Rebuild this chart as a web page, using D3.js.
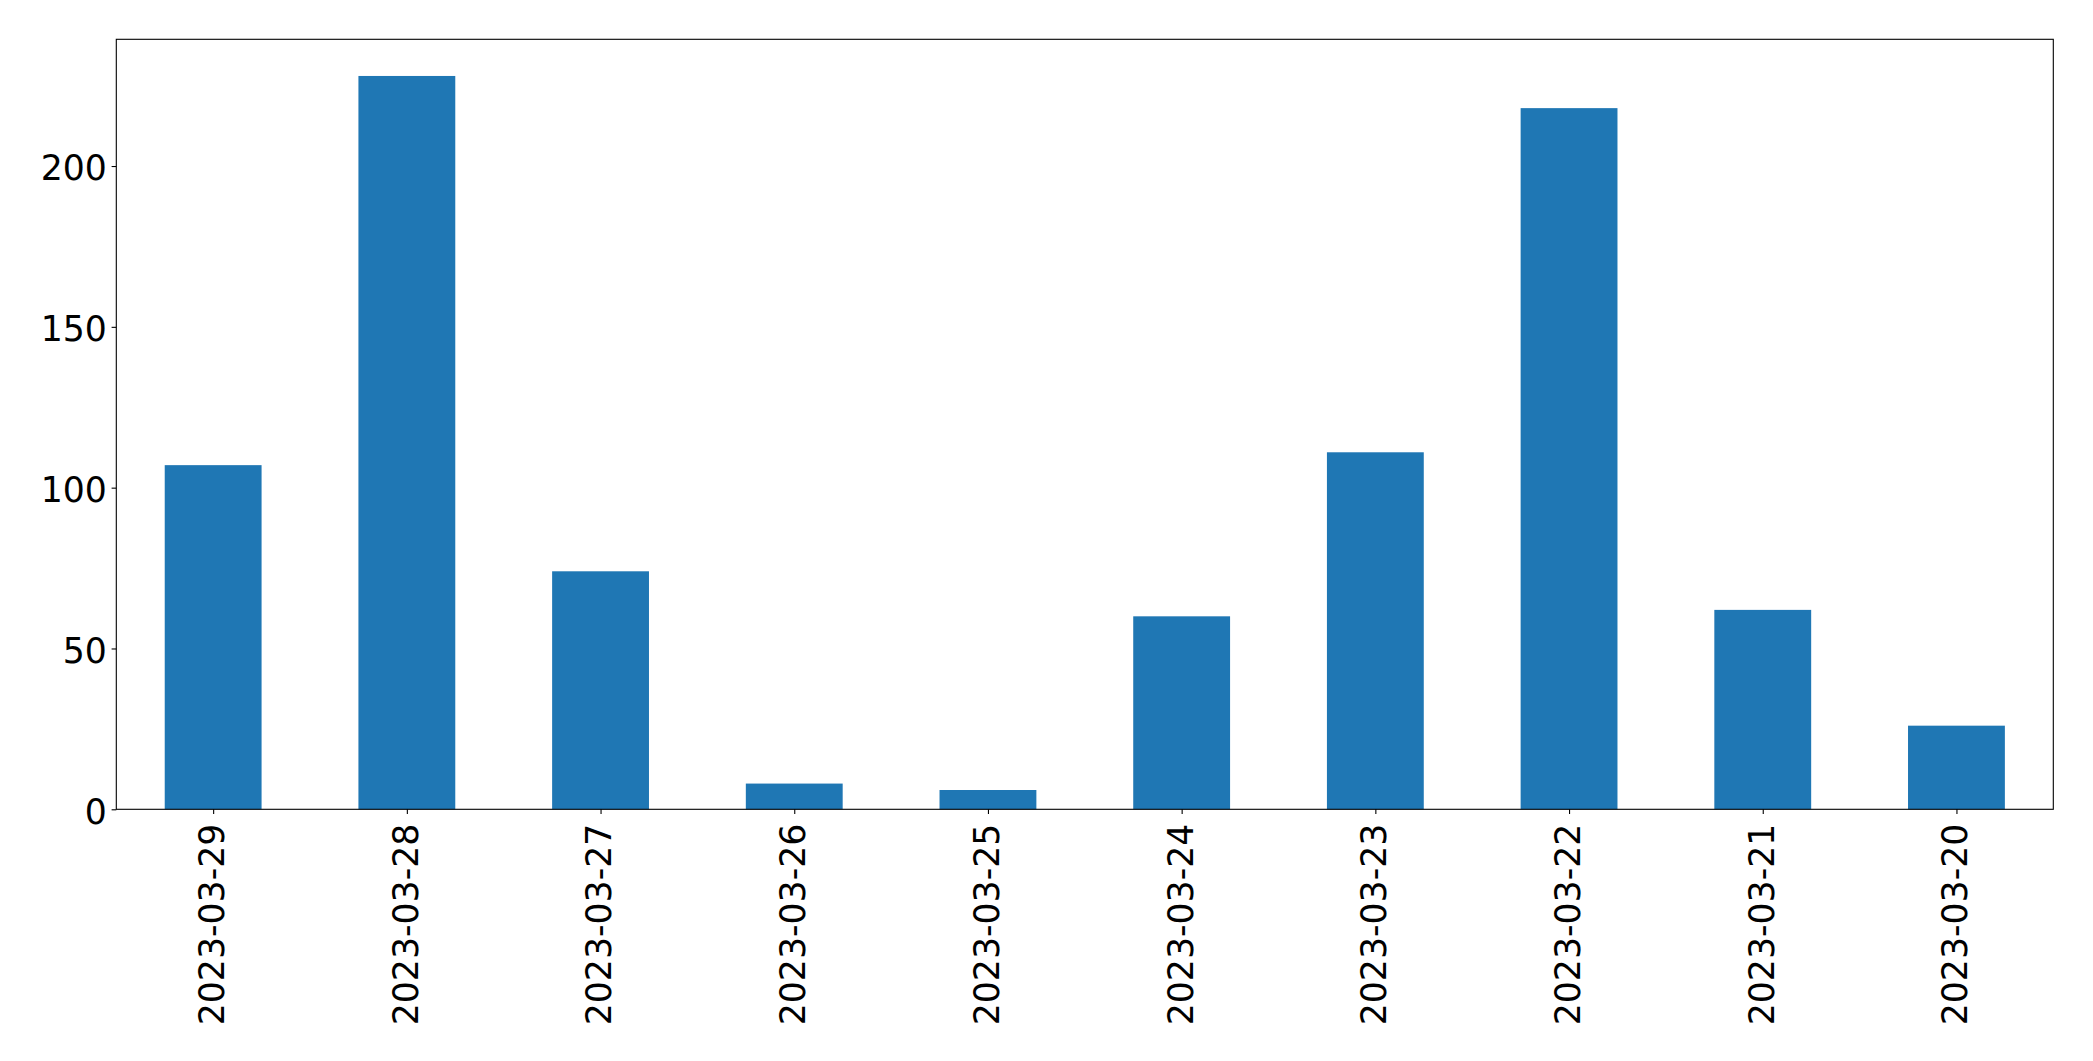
<!DOCTYPE html>
<html>
<head>
<meta charset="utf-8">
<script src="https://cdn.jsdelivr.net/npm/d3@7"></script>
<style>
  html, body { margin: 0; padding: 0; background: #fff; }
  svg { display: block; }
  text { font-family: "DejaVu Sans", sans-serif; fill: #000; }
</style>
</head>
<body>
<svg id="chart" width="2093" height="1061"></svg>
<script>
const categories = ["2023-03-29","2023-03-28","2023-03-27","2023-03-26","2023-03-25","2023-03-24","2023-03-23","2023-03-22","2023-03-21","2023-03-20"];
const values = [107, 228, 74, 8, 6, 60, 111, 218, 62, 26];
const yTicks = [0, 50, 100, 150, 200];

const W = 2093, H = 1061;
const m = { left: 116.3, right: 2053.3, top: 39.3, bottom: 809.3 };
const fontSize = 34.7;
const tickLen = 4.7, pad = 4.7;

const svg = d3.select("#chart");

const x = d3.scaleLinear().domain([-0.5, categories.length - 0.5]).range([m.left, m.right]);
const y = d3.scaleLinear().domain([0, d3.max(values) * 1.05]).range([m.bottom, m.top]);

// bars
svg.append("g").selectAll("rect")
  .data(values)
  .join("rect")
  .attr("x", (d, i) => x(i - 0.25))
  .attr("width", (d, i) => x(i + 0.25) - x(i - 0.25))
  .attr("y", d => y(d))
  .attr("height", d => y(0) - y(d))
  .attr("fill", "#1f77b4");

// y axis
const yAxis = d3.axisLeft(y).tickValues(yTicks).tickSize(tickLen).tickPadding(pad).tickFormat(d3.format("d"));
const gy = svg.append("g").attr("transform", `translate(${m.left},0)`).call(yAxis);
gy.select(".domain").remove();
gy.selectAll(".tick line").attr("stroke", "#000").attr("stroke-width", 1.1);
gy.selectAll(".tick text")
  .attr("font-size", fontSize)
  .attr("font-family", "DejaVu Sans, sans-serif")
  .attr("fill", "#000")
  .attr("dy", "0.4em");

// x axis
const xAxis = d3.axisBottom(x).tickValues(d3.range(categories.length)).tickSize(tickLen).tickPadding(pad)
  .tickFormat(i => categories[i]);
const gx = svg.append("g").attr("transform", `translate(0,${m.bottom})`).call(xAxis);
gx.select(".domain").remove();
gx.selectAll(".tick line").attr("stroke", "#000").attr("stroke-width", 1.1);
gx.selectAll(".tick text")
  .attr("font-size", fontSize)
  .attr("font-family", "DejaVu Sans, sans-serif")
  .attr("fill", "#000")
  .attr("text-anchor", "end")
  .attr("transform", `translate(0,${tickLen + pad + 5}) rotate(-90)`)
  .attr("x", 0)
  .attr("y", 0)
  .attr("dy", "0.3em");

// frame
svg.append("rect")
  .attr("x", m.left).attr("y", m.top)
  .attr("width", m.right - m.left).attr("height", m.bottom - m.top)
  .attr("fill", "none").attr("stroke", "#000").attr("stroke-width", 1.1);
</script>
</body>
</html>
